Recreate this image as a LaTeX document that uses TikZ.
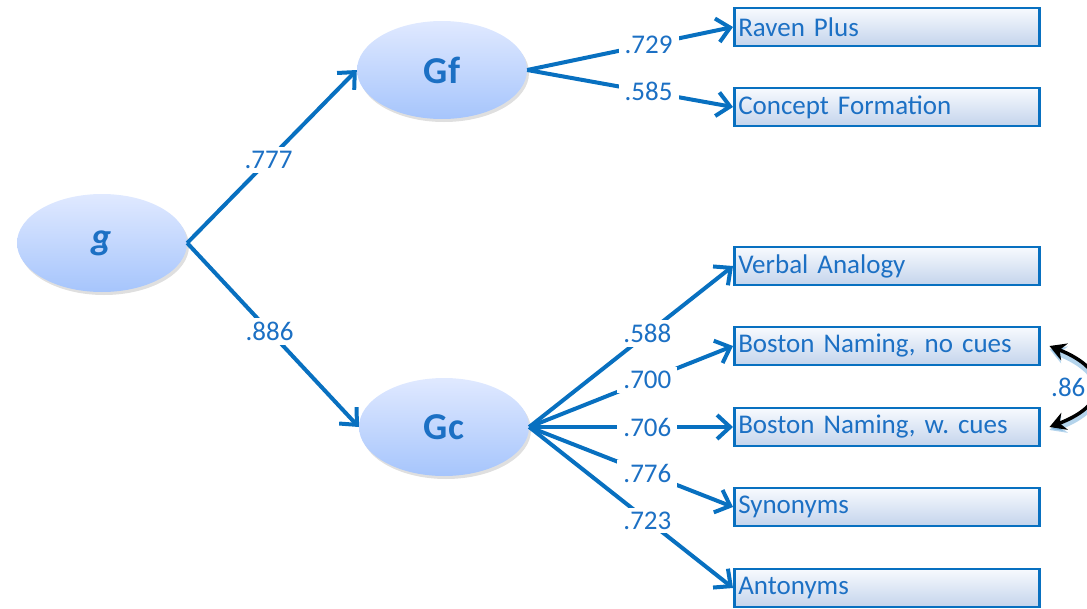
\documentclass[tikz,border=0pt]{standalone}
\usepackage{fontspec}
\setmainfont{Carlito}
\frenchspacing
\usetikzlibrary{arrows.meta,shapes.geometric,shadows}

\definecolor{pathblue}{RGB}{8,112,192}
\definecolor{textblue}{RGB}{28,112,196}
\definecolor{ovaltop}{RGB}{224,233,255}
\definecolor{ovalbot}{RGB}{166,197,252}
\definecolor{boxtop}{RGB}{247,250,254}
\definecolor{boxbot}{RGB}{196,212,236}

\tikzset{
  factor/.style={ellipse, inner sep=0pt, minimum width=170pt, minimum height=98pt,
    top color=ovaltop, bottom color=ovalbot,
    drop shadow={opacity=0.25, shadow xshift=2pt, shadow yshift=-3pt},
    text=textblue, font=\fontsize{38}{40}\selectfont\bfseries},
  indicator/.style={draw=pathblue, line width=2.5pt, top color=boxtop, bottom color=boxbot,
    minimum height=38pt, text width=297pt, inner xsep=4pt, align=left, anchor=west,
    text=textblue, font=\fontsize{27}{30}\selectfont},
  loading/.style={draw=pathblue, line width=4pt, -{Straight Barb[length=13pt,width=24pt]}},
  weight/.style={fill=white, text=textblue, inner xsep=6pt, inner ysep=4pt,
    font=\fontsize{27}{30}\selectfont},
  covar/.style={draw=black, line width=3.5pt, {Stealth[length=16pt,width=18pt]}-{Stealth[length=16pt,width=18pt]},
    preaction={draw=pathblue, opacity=0.3, line width=7pt, transform canvas={yshift=-3pt}}}
}

\begin{document}
\begin{tikzpicture}[x=1pt, y=-1pt]
  \useasboundingbox (0,0) rectangle (1087,608);
  \clip (0,0) rectangle (1087,608);

  % Latent factors
  \node[factor] (g)  at (102,243) {\itshape g};
  \node[factor] (gf) at (442,70)  {Gf};
  \node[factor] (gc) at (444,427) {Gc};

  % Observed tests
  \node[indicator] (raven)   at (733,27)  {Raven Plus};
  \node[indicator] (concept) at (733,107) {Concept Formation};
  \node[indicator] (verbal)  at (733,266) {Verbal Analogy};
  \node[indicator] (bnc)     at (733,346) {Boston Naming, no cues};
  \node[indicator] (bwc)     at (733,427) {Boston Naming, w. cues};
  \node[indicator] (syn)     at (733,507) {Synonyms};
  \node[indicator] (ant)     at (733,588) {Antonyms};

  % Second-order loadings
  \draw[loading] (g.east) -- node[weight, pos=0.48] {.777} (gf.west);
  \draw[loading] (g.east) -- node[weight, pos=0.48] {.886} (gc.west);

  % First-order loadings
  \draw[loading] (gf.east) -- node[weight, pos=0.59] {.729} (raven.west);
  \draw[loading] (gf.east) -- node[weight, pos=0.59] {.585} (concept.west);
  \foreach \tgt/\w in {verbal/.588, bnc/.700, bwc/.706, syn/.776, ant/.723}
    \draw[loading] (gc.east) -- node[weight, pos=0.58] {\w} (\tgt.west);

  % Residual correlation
  \coordinate (cu) at ([xshift=9pt]bnc.east);
  \coordinate (cl) at ([xshift=9pt]bwc.east);
  \draw[covar] (cu) .. controls (1110,370) and (1110,404) .. (cl);
  \node[anchor=west, inner sep=0pt, text=textblue, font=\fontsize{27}{30}\selectfont] (r) at (1051,387) {.86};
\end{tikzpicture}
\end{document}
